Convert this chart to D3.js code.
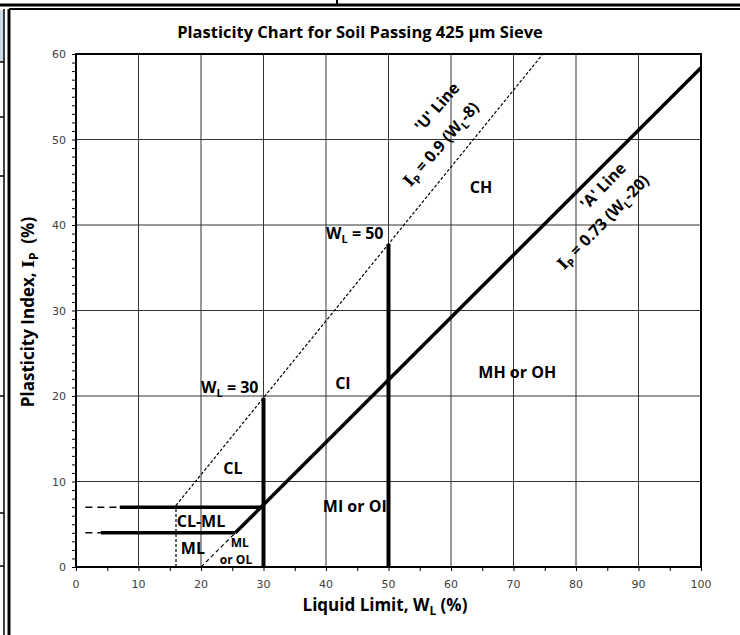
<!DOCTYPE html>
<html>
  <head>
    <meta charset="utf-8" />
    <title>plasticity-chart</title>
    <style>
      html,
      body {
        padding: 0;
        margin: 0;
        background: #fff;
      }
      svg {
        display: block;
      }
      .bold {
        font-family: 'Open Sans', sans-serif;
        font-weight: bold;
      }
    </style>
  </head>
  <body>
    <svg width="740" height="635"></svg>

    <script src="https://cdn.jsdelivr.net/npm/d3@7/dist/d3.min.js"></script>
    <script>
      // axis ticks
      const xTicks = [0, 10, 20, 30, 40, 50, 60, 70, 80, 90, 100];
      const yTicks = [0, 10, 20, 30, 40, 50, 60];

      // boundary lines [W_L, I_P]
      const aLineSolid = [[25.5, 4], [100, 58.4]];
      const aLineDash = [[20, 0], [25.5, 4]];
      const uLine = [[16, 7.2], [74.7, 60]];
      const uVert = [[16, 0], [16, 7.2]];
      const wl30 = [[30, 0], [30, 19.8]];
      const wl50 = [[50, 0], [50, 37.8]];
      const ip7 = [[7, 7], [29.6, 7]];
      const ip7Dash = [[1.5, 7], [7, 7]];
      const ip4 = [[4, 4], [25.5, 4]];
      const ip4Dash = [[1.5, 4], [4, 4]];

      // zone labels [text, W_L, I_P]
      const zones = [
        ['CL', 25.1, 11.5],
        ['CI', 42.7, 21.5],
        ['CH', 64.8, 44.4],
        ['MH or OH', 70.6, 22.8],
        ['MI or OI', 44.6, 7.1],
        ['CL-ML', 20, 5.3],
        ['ML', 18.7, 2.2],
      ];
    </script>
    <script>
      const svg = d3.select('svg');
      const x = d3.scaleLinear().domain([0, 100]).range([76, 701]);
      const y = d3.scaleLinear().domain([0, 60]).range([567, 54]);
      const line = d3.line().x((d) => x(d[0])).y((d) => y(d[1]));

      svg.append('rect').attr('width', 740).attr('height', 635).attr('fill', '#fff');

      // frame left over from the spreadsheet screenshot
      const frame = svg.append('g').attr('stroke', '#000');
      frame.append('rect').attr('x', 0).attr('y', 10).attr('width', 4).attr('height', 52).attr('fill', '#c9dbe6').attr('stroke', 'none');
      frame.append('line').attr('x1', 0).attr('x2', 740).attr('y1', 5).attr('y2', 5).attr('stroke-width', 3);
      frame.append('line').attr('x1', 9).attr('x2', 740).attr('y1', 9).attr('y2', 9).attr('stroke-width', 2);
      frame.append('line').attr('x1', 337).attr('x2', 337).attr('y1', 0).attr('y2', 5).attr('stroke-width', 2);
      frame.append('line').attr('x1', 4).attr('x2', 4).attr('y1', 9).attr('y2', 635).attr('stroke-width', 1.5);
      frame.append('line').attr('x1', 9).attr('x2', 9).attr('y1', 9).attr('y2', 635).attr('stroke-width', 3);
      [62, 117, 176, 396, 513, 566].forEach((v) => {
        frame.append('line').attr('x1', 0).attr('x2', 4).attr('y1', v).attr('y2', v).attr('stroke-width', 1.5);
      });

      // grid
      const grid = svg.append('g').attr('stroke', '#333').attr('stroke-width', 1);
      grid.selectAll('.gx').data(xTicks.slice(1, -1)).join('line')
        .attr('x1', (d) => x(d)).attr('x2', (d) => x(d)).attr('y1', y(0)).attr('y2', y(60));
      grid.selectAll('.gy').data(yTicks.slice(1, -1)).join('line')
        .attr('y1', (d) => y(d)).attr('y2', (d) => y(d)).attr('x1', x(0)).attr('x2', x(100));

      // axes: minor ticks
      const xAxis = svg.append('g').attr('transform', `translate(0,${y(0)})`)
        .call(d3.axisBottom(x).tickValues(d3.range(0, 101, 5)).tickSize(4).tickFormat(''));
      const yAxis = svg.append('g').attr('transform', `translate(${x(0)},0)`)
        .call(d3.axisLeft(y).tickValues(d3.range(0, 61, 1)).tickSize(4).tickFormat(''));
      [xAxis, yAxis].forEach((g) => {
        g.select('.domain').remove();
        g.selectAll('line').attr('stroke', '#000').attr('stroke-width', 1);
      });

      svg.append('rect')
        .attr('x', x(0)).attr('y', y(60))
        .attr('width', x(100) - x(0)).attr('height', y(0) - y(60))
        .attr('fill', 'none').attr('stroke', '#000').attr('stroke-width', 2);

      // tick labels
      const ticks = svg.append('g')
        .attr('font-family', 'DejaVu Sans, sans-serif').attr('font-size', '11px').attr('fill', '#404040');
      ticks.selectAll('.tx').data(xTicks).join('text')
        .attr('x', (d) => x(d)).attr('y', y(0) + 21).attr('text-anchor', 'middle')
        .text((d) => d);
      ticks.selectAll('.ty').data(yTicks).join('text')
        .attr('x', x(0) - 10).attr('y', (d) => y(d) + 4).attr('text-anchor', 'end')
        .text((d) => d);

      // boundary lines
      const thick = 3.5;
      const lines = [
        [aLineSolid, thick, null],
        [aLineDash, 1.2, '4,3'],
        [uLine, 1.2, '3,2'],
        [uVert, 1.2, '3,2'],
        [wl30, 4, null],
        [wl50, 4, null],
        [ip7, thick, null],
        [ip7Dash, 1.5, '7,5'],
        [ip4, thick, null],
        [ip4Dash, 1.5, '7,5'],
      ];
      svg.append('g').selectAll('path').data(lines).join('path')
        .attr('d', (d) => line(d[0]))
        .attr('fill', 'none').attr('stroke', '#000')
        .attr('stroke-width', (d) => d[1])
        .attr('stroke-dasharray', (d) => d[2]);

      // labels
      const lab = svg.append('g').attr('class', 'bold').attr('fill', '#000');
      lab.selectAll('.zone').data(zones).join('text')
        .attr('x', (d) => x(d[1])).attr('y', (d) => y(d[2])).attr('dy', '0.35em')
        .attr('text-anchor', 'middle').attr('font-size', '16px')
        .text((d) => d[0]);

      const small = lab.append('text').attr('text-anchor', 'middle').attr('font-size', '12px');
      small.append('tspan').attr('x', x(26.2)).attr('y', y(2.8)).attr('dy', '0.35em').text('ML');
      small.append('tspan').attr('x', x(25.6)).attr('y', y(0.8)).attr('dy', '0.35em').text('or OL');

      // text with subscripts: parts = [[text, isSub, serif]]
      function richText(g, parts, size) {
        const t = g.append('text').attr('font-size', size + 'px');
        let low = false;
        parts.forEach(([s, sub, serif]) => {
          const ts = t.append('tspan').text(s);
          if (sub) ts.attr('font-size', Math.round(size * 0.68) + 'px');
          if (serif) ts.attr('font-family', 'DejaVu Serif, serif');
          if (sub && !low) ts.attr('dy', size * 0.25);
          if (!sub && low) ts.attr('dy', -size * 0.25);
          low = !!sub;
        });
        return t;
      }
      richText(lab, [['W'], ['L', 1], [' = 30']], 16)
        .attr('x', x(30) - 5).attr('y', y(20.4)).attr('text-anchor', 'end');
      richText(lab, [['W'], ['L', 1], [' = 50']], 16)
        .attr('x', x(50) - 5).attr('y', y(38.4)).attr('text-anchor', 'end');

      // U and A line labels (rotated along the lines)
      const rotLabels = [
        [[["'U' Line"]], 437, 107, -49],
        [[['I', 0, 1], ['P', 1], [' = 0.9 (W'], ['L', 1], ['-8)']], 441, 144, -49],
        [[["'A' Line"]], 603, 186, -46],
        [[['I', 0, 1], ['P', 1], [' = 0.73 (W'], ['L', 1], ['-20)']], 603, 222, -46],
      ];
      rotLabels.forEach(([parts, cx, cy, a]) => {
        richText(lab, parts, 16)
          .attr('text-anchor', 'middle').attr('dy', '0.35em')
          .attr('transform', `translate(${cx},${cy}) rotate(${a})`);
      });

      // titles
      lab.append('text').attr('x', 360).attr('y', 38).attr('text-anchor', 'middle').attr('font-size', '16.5px')
        .text('Plasticity Chart for Soil Passing 425 µm Sieve');

      richText(lab, [['Liquid Limit, W'], ['L', 1], [' (%)']], 17)
        .attr('x', 385).attr('y', 611).attr('text-anchor', 'middle');

      richText(lab, [['Plasticity Index, '], ['I', 0, 1], ['P', 1], ['\u00a0\u00a0(%)']], 17)
        .attr('text-anchor', 'middle')
        .attr('transform', 'translate(34,312) rotate(-90)');
    </script>
  </body>
</html>
